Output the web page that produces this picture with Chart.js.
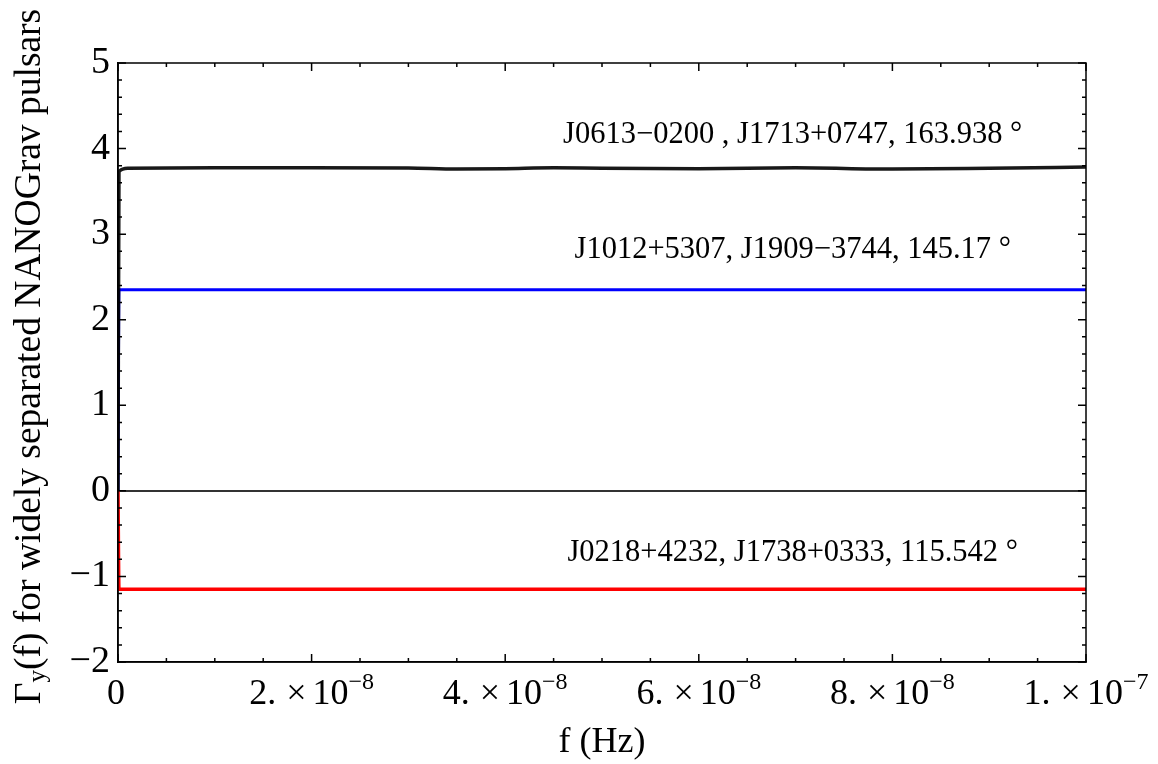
<!DOCTYPE html>
<html>
<head>
<meta charset="utf-8">
<script src="https://cdn.jsdelivr.net/npm/chart.js@4.4.1/dist/chart.umd.min.js"></script>
<style>
  body { margin: 0; background: #fff; }
  #wrap { width: 1158px; height: 764px; }
</style>
</head>
<body>
<div id="wrap"><canvas id="chart" width="1158" height="764"></canvas></div>
<script>
// frequency samples (Hz)
const freq = [0, 1e-10, 1e-9, 1e-8, 2e-8, 3e-8, 3.5e-8, 4e-8, 4.5e-8, 5e-8, 6e-8, 7e-8, 8e-8, 9e-8, 1e-7];

// Gamma_y(f) for the three pulsar pairs
const gammaBlack = [0, 3.73, 3.77, 3.775, 3.775, 3.772, 3.76, 3.765, 3.775, 3.77, 3.765, 3.775, 3.76, 3.77, 3.785];
const gammaBlue  = [0, 2.35, 2.35, 2.35, 2.35, 2.35, 2.35, 2.35, 2.35, 2.35, 2.35, 2.35, 2.35, 2.35, 2.35];
const gammaRed   = [0, -1.15, -1.15, -1.15, -1.15, -1.15, -1.15, -1.15, -1.15, -1.15, -1.15, -1.15, -1.15, -1.15, -1.15];

const pairLabels = [
    "J0613\u22120200 , J1713+0747, 163.938 \u00b0",
    "J1012+5307, J1909\u22123744, 145.17 \u00b0",
    "J0218+4232, J1738+0333, 115.542 \u00b0"
];

const yTicks = [-2, -1, 0, 1, 2, 3, 4, 5];
const xTickValues = [0, 2e-8, 4e-8, 6e-8, 8e-8, 1e-7];
const xTickMantissa = ["0", "2.", "4.", "6.", "8.", "1."];
const xTickExponent = ["", "\u22128", "\u22128", "\u22128", "\u22128", "\u22127"];

const SERIF = "'Liberation Serif', 'DejaVu Serif', serif";

function toPoints(vals) {
    return freq.map((f, i) => ({ x: f, y: vals[i] }));
}

const framePlugin = {
    id: "frame",
    afterDraw(chart) {
        const ctx = chart.ctx;
        const a = chart.chartArea;
        const xs = chart.scales.x;
        const ys = chart.scales.y;

        ctx.save();
        ctx.strokeStyle = "#000";
        ctx.lineWidth = 1.5;
        ctx.strokeRect(a.left, a.top, a.right - a.left, a.bottom - a.top);

        // inward ticks on all four sides
        ctx.beginPath();
        for (let k = 0; k <= 35; k++) {
            const v = -2 + k * 0.2;
            const py = ys.getPixelForValue(v);
            const len = k % 5 === 0 ? 8 : 4;
            ctx.moveTo(a.left, py); ctx.lineTo(a.left + len, py);
            ctx.moveTo(a.right, py); ctx.lineTo(a.right - len, py);
        }
        for (let k = 0; k <= 20; k++) {
            const v = k * 0.5e-8;
            const px = xs.getPixelForValue(v);
            const len = k % 4 === 0 ? 8 : 4;
            ctx.moveTo(px, a.bottom); ctx.lineTo(px, a.bottom - len);
            ctx.moveTo(px, a.top); ctx.lineTo(px, a.top + len);
        }
        ctx.stroke();

        // x tick labels with superscript exponents
        ctx.fillStyle = "#000";
        ctx.textBaseline = "alphabetic";
        xTickValues.forEach((v, i) => {
            const px = xs.getPixelForValue(v);
            const base = a.bottom + 42;
            if (!xTickExponent[i]) {
                ctx.font = "36px " + SERIF;
                ctx.textAlign = "center";
                ctx.fillText(xTickMantissa[i], px - 2, base);
                return;
            }
            ctx.font = "36px " + SERIF;
            const w1 = ctx.measureText(xTickMantissa[i]).width;
            const wx = ctx.measureText("\u00d7").width;
            const w10 = ctx.measureText("10").width;
            ctx.font = "24px " + SERIF;
            const we = ctx.measureText(xTickExponent[i]).width;
            const gap1 = 10, gap2 = 6;
            const total = w1 + gap1 + wx + gap2 + w10 + we;
            let cx = px - total / 2;
            ctx.textAlign = "left";
            ctx.font = "36px " + SERIF;
            ctx.fillText(xTickMantissa[i], cx, base); cx += w1 + gap1;
            ctx.fillText("\u00d7", cx, base); cx += wx + gap2;
            ctx.fillText("10", cx, base); cx += w10;
            ctx.font = "24px " + SERIF;
            ctx.fillText(xTickExponent[i], cx, base - 15);
        });

        // y axis title with subscript
        ctx.translate(30, (a.top + a.bottom) / 2 - 6);
        ctx.rotate(-Math.PI / 2);
        ctx.textBaseline = "middle";
        ctx.textAlign = "left";
        ctx.font = "37.5px " + SERIF;
        const wG = ctx.measureText("\u0393").width;
        const rest = "(f) for widely separated NANOGrav pulsars";
        const wR = ctx.measureText(rest).width;
        ctx.font = "25px " + SERIF;
        const wy = ctx.measureText("y").width;
        let tx = -(wG + wy + wR) / 2;
        ctx.font = "37.5px " + SERIF;
        ctx.fillText("\u0393", tx, 0); tx += wG;
        ctx.font = "25px " + SERIF;
        ctx.fillText("y", tx, 8); tx += wy;
        ctx.font = "37.5px " + SERIF;
        ctx.fillText(rest, tx, 0);
        ctx.restore();

        // pair labels
        const notePos = [[6.97e-8, 4.155], [6.97e-8, 2.81], [6.97e-8, -0.73]];
        ctx.save();
        ctx.fillStyle = "#000";
        ctx.font = "30.5px " + SERIF;
        ctx.textAlign = "center";
        ctx.textBaseline = "middle";
        pairLabels.forEach((t, i) => {
            ctx.fillText(t, xs.getPixelForValue(notePos[i][0]), ys.getPixelForValue(notePos[i][1]));
        });
        ctx.restore();
    }
};

new Chart(document.getElementById("chart").getContext("2d"), {
    type: "line",
    data: {
        datasets: [
            { data: toPoints(gammaBlack), borderColor: "rgba(0,0,0,0.9)", borderWidth: 3.5 },
            { data: toPoints(gammaBlue), borderColor: "#0000ff", borderWidth: 3 },
            { data: toPoints(gammaRed), borderColor: "#ff0000", borderWidth: 3.5 }
        ].map(d => Object.assign(d, { pointRadius: 0, fill: false, cubicInterpolationMode: "monotone" }))
    },
    options: {
        responsive: false,
        animation: false,
        devicePixelRatio: 1,
        layout: { padding: { top: 63, right: 72, left: 0, bottom: 0 } },
        plugins: { legend: { display: false }, tooltip: { enabled: false } },
        scales: {
            x: {
                type: "linear",
                min: 0,
                max: 1e-7,
                afterFit: s => { s.height = 102; },
                grid: { display: false },
                border: { display: true, color: "#000", width: 1.5 },
                ticks: { display: false },
                title: {
                    display: true,
                    text: "f (Hz)",
                    color: "#000",
                    font: { family: SERIF, size: 36 },
                    padding: { top: 0, bottom: 0 }
                }
            },
            y: {
                min: -2,
                max: 5,
                afterFit: s => { s.width = 118; },
                afterBuildTicks: s => { s.ticks = yTicks.map(v => ({ value: v })); },
                grid: {
                    drawTicks: false,
                    color: c => c.tick && c.tick.value === 0 ? "#333" : "rgba(0,0,0,0)",
                    lineWidth: 2
                },
                border: { display: true, color: "#000", width: 1.5 },
                ticks: {
                    padding: 8,
                    color: "#000",
                    font: { family: SERIF, size: 38 },
                    callback: v => v < 0 ? "\u2212" + Math.abs(v) : String(v)
                }
            }
        }
    },
    plugins: [framePlugin]
});
</script>
</body>
</html>
